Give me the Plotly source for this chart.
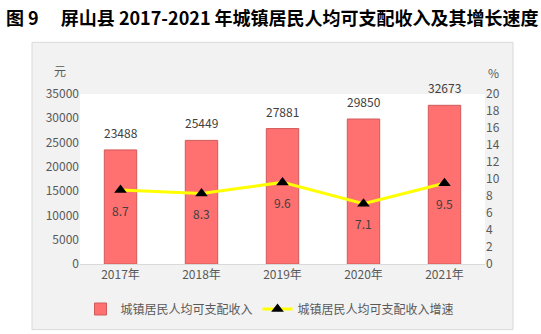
import plotly.graph_objects as go

years = ["2017年", "2018年", "2019年", "2020年", "2021年"]
income = [23488, 25449, 27881, 29850, 32673]
growth = [8.7, 8.3, 9.6, 7.1, 9.5]
left_ticks = [0, 5000, 10000, 15000, 20000, 25000, 30000, 35000]
right_ticks = [0, 2, 4, 6, 8, 10, 12, 14, 16, 18, 20]

FONT = "Noto Sans CJK SC"
TICK = "#595959"

def px(x):
    return (x - 80) / 405

def py(y):
    return (265 - y) / 171

fig = go.Figure()
fig.add_trace(go.Bar(
    x=years, y=income, name="城镇居民人均可支配收入",
    marker=dict(color="#ff7070", line=dict(color="#d05a5a", width=1)),
    width=0.4, yaxis="y",
))
fig.add_trace(go.Scatter(
    x=years, y=growth, name="城镇居民人均可支配收入增速",
    mode="lines+markers", yaxis="y2",
    line=dict(color="#ffff00", width=3),
    marker=dict(symbol="triangle-up", size=11, color="black"),
))

ann = []
for xv, v in zip(years, income):
    ann.append(dict(x=xv, y=v, xref="x", yref="y", text=str(v), showarrow=False,
                    yanchor="bottom", yshift=7, font=dict(size=12, color="#404040", family=FONT)))
for xv, v in zip(years, growth):
    ann.append(dict(x=xv, y=v, xref="x", yref="y2", text=str(v), showarrow=False,
                    yanchor="middle", yshift=-20, font=dict(size=12, color="#404040", family=FONT)))
ann.append(dict(x=px(60), y=py(70), xref="paper", yref="paper", text="元", showarrow=False,
                xanchor="center", yanchor="middle", font=dict(size=12, color=TICK, family=FONT)))
ann.append(dict(x=px(493), y=py(72), xref="paper", yref="paper", text="%", showarrow=False,
                xanchor="center", yanchor="middle", font=dict(size=12, color=TICK, family=FONT)))
ann.append(dict(x=px(4), y=py(17), xref="paper", yref="paper",
                text="<b>图 9　 屏山县 2017-2021 年城镇居民人均可支配收入及其增长速度</b>",
                showarrow=False, xanchor="left", yanchor="middle",
                font=dict(size=18, color="black", family=FONT)))

shapes = [
    dict(type="rect", xref="paper", yref="paper", x0=px(32), x1=px(513),
         y0=py(331), y1=py(42), fillcolor="#f2f2f2",
         line=dict(color="#d9d9d9", width=1), layer="below"),
    dict(type="rect", xref="paper", yref="paper", x0=0, x1=1, y0=0, y1=1,
         fillcolor="white", line=dict(width=0), layer="below"),
]

fig.update_layout(
    width=541, height=334,
    margin=dict(l=80, r=56, t=94, b=69),
    paper_bgcolor="white", plot_bgcolor="white",
    font=dict(family=FONT, size=12, color=TICK),
    showlegend=True,
    legend=dict(orientation="h", x=px(270), xanchor="center", y=py(309), yanchor="middle",
                itemwidth=30, tracegroupgap=0,
                font=dict(size=12, color=TICK, family=FONT), bgcolor="rgba(0,0,0,0)"),
    xaxis=dict(showgrid=False, showline=True, linecolor="#d9d9d9", linewidth=1,
               ticks="", tickfont=dict(size=12, color=TICK)),
    yaxis=dict(range=[0, 35000], tickvals=left_ticks, ticktext=[str(t) for t in left_ticks],
               showgrid=False, zeroline=False,
               showline=False, ticks="", tickfont=dict(size=12, color=TICK)),
    yaxis2=dict(range=[0, 20], tickvals=right_ticks, ticktext=[str(t) for t in right_ticks],
                overlaying="y", side="right",
                showgrid=False, zeroline=False, showline=False, ticks="",
                tickfont=dict(size=12, color=TICK)),
    annotations=ann, shapes=shapes,
)
fig.write_html("out.html")
